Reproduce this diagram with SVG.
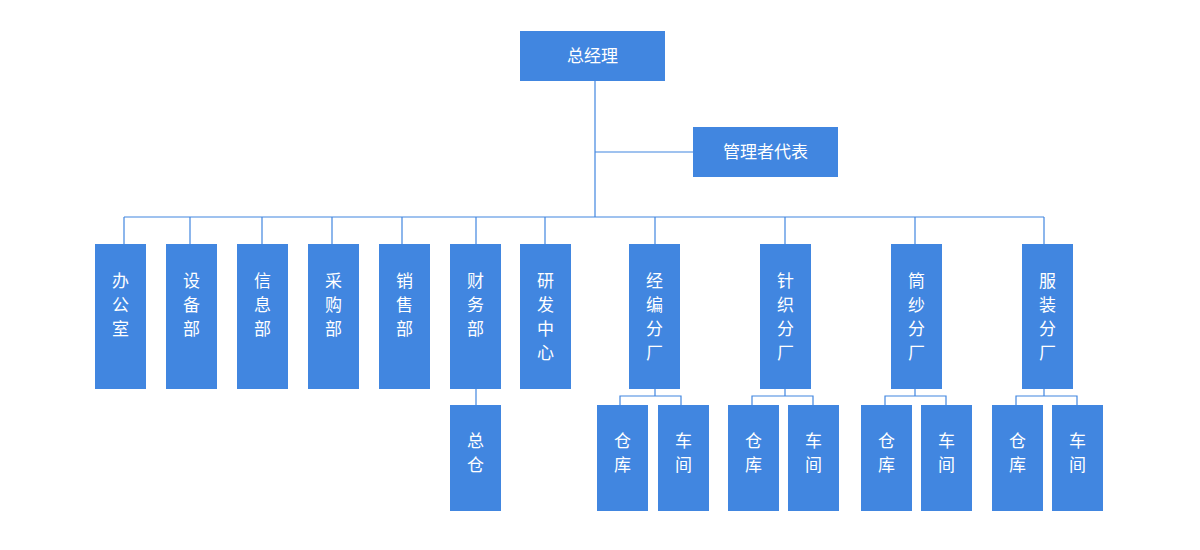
<svg xmlns="http://www.w3.org/2000/svg" width="1200" height="550" viewBox="0 0 1200 550">
<style>
.b{fill:#4186e0}
text{fill:#fff;font-family:"Noto Sans CJK SC",sans-serif;font-size:17px;text-anchor:middle}
.c{stroke:#4186e0;stroke-width:1.2;fill:none}
</style>
<rect width="1200" height="550" fill="#fff"/>
<g id="connectors" class="c">
<path d="M595 81V217M595 152H693M124 217H1044"/>
<path d="M124 217V244M190 217V244M262 217V244M332 217V244M402 217V244M476 217V244M545 217V244M655 217V244M785 217V244M915 217V244M1044 217V244"/>
<path d="M476 389V405"/>
<path d="M655 389V396M620 405V396H681V405"/>
<path d="M785 389V396M752 405V396H813V405"/>
<path d="M915 389V396M885 405V396H946V405"/>
<path d="M1044 389V396M1016 405V396H1077V405"/>
</g>
<g id="n0"><rect class="b" x="520" y="31" width="145" height="50"/><text x="592.5" y="62">总经理</text></g>
<g id="n1"><rect class="b" x="693" y="127" width="145" height="50"/><text x="765.5" y="158">管理者代表</text></g>
<g id="d1"><rect class="b" x="95" y="244" width="51" height="145"/><text x="120.5" y="287">办</text><text x="120.5" y="311">公</text><text x="120.5" y="335">室</text></g>
<g id="d2"><rect class="b" x="166" y="244" width="51" height="145"/><text x="191.5" y="287">设</text><text x="191.5" y="311">备</text><text x="191.5" y="335">部</text></g>
<g id="d3"><rect class="b" x="237" y="244" width="51" height="145"/><text x="262.5" y="287">信</text><text x="262.5" y="311">息</text><text x="262.5" y="335">部</text></g>
<g id="d4"><rect class="b" x="308" y="244" width="51" height="145"/><text x="333.5" y="287">采</text><text x="333.5" y="311">购</text><text x="333.5" y="335">部</text></g>
<g id="d5"><rect class="b" x="379" y="244" width="51" height="145"/><text x="404.5" y="287">销</text><text x="404.5" y="311">售</text><text x="404.5" y="335">部</text></g>
<g id="d6"><rect class="b" x="450" y="244" width="51" height="145"/><text x="475.5" y="287">财</text><text x="475.5" y="311">务</text><text x="475.5" y="335">部</text></g>
<g id="d7"><rect class="b" x="520" y="244" width="51" height="145"/><text x="545.5" y="287">研</text><text x="545.5" y="311">发</text><text x="545.5" y="335">中</text><text x="545.5" y="359">心</text></g>
<g id="d8"><rect class="b" x="629" y="244" width="51" height="145"/><text x="654.5" y="287">经</text><text x="654.5" y="311">编</text><text x="654.5" y="335">分</text><text x="654.5" y="359">厂</text></g>
<g id="d9"><rect class="b" x="760" y="244" width="51" height="145"/><text x="785.5" y="287">针</text><text x="785.5" y="311">织</text><text x="785.5" y="335">分</text><text x="785.5" y="359">厂</text></g>
<g id="d10"><rect class="b" x="891" y="244" width="51" height="145"/><text x="916.5" y="287">筒</text><text x="916.5" y="311">纱</text><text x="916.5" y="335">分</text><text x="916.5" y="359">厂</text></g>
<g id="d11"><rect class="b" x="1022" y="244" width="51" height="145"/><text x="1047.5" y="287">服</text><text x="1047.5" y="311">装</text><text x="1047.5" y="335">分</text><text x="1047.5" y="359">厂</text></g>
<g id="s0"><rect class="b" x="450" y="405" width="51" height="106"/><text x="475.5" y="447">总</text><text x="475.5" y="471">仓</text></g>
<g id="s1"><rect class="b" x="597" y="405" width="51" height="106"/><text x="622.5" y="447">仓</text><text x="622.5" y="471">库</text></g>
<g id="s2"><rect class="b" x="658" y="405" width="51" height="106"/><text x="683.5" y="447">车</text><text x="683.5" y="471">间</text></g>
<g id="s3"><rect class="b" x="728" y="405" width="51" height="106"/><text x="753.5" y="447">仓</text><text x="753.5" y="471">库</text></g>
<g id="s4"><rect class="b" x="788" y="405" width="51" height="106"/><text x="813.5" y="447">车</text><text x="813.5" y="471">间</text></g>
<g id="s5"><rect class="b" x="861" y="405" width="51" height="106"/><text x="886.5" y="447">仓</text><text x="886.5" y="471">库</text></g>
<g id="s6"><rect class="b" x="921" y="405" width="51" height="106"/><text x="946.5" y="447">车</text><text x="946.5" y="471">间</text></g>
<g id="s7"><rect class="b" x="992" y="405" width="51" height="106"/><text x="1017.5" y="447">仓</text><text x="1017.5" y="471">库</text></g>
<g id="s8"><rect class="b" x="1052" y="405" width="51" height="106"/><text x="1077.5" y="447">车</text><text x="1077.5" y="471">间</text></g>
</svg>
